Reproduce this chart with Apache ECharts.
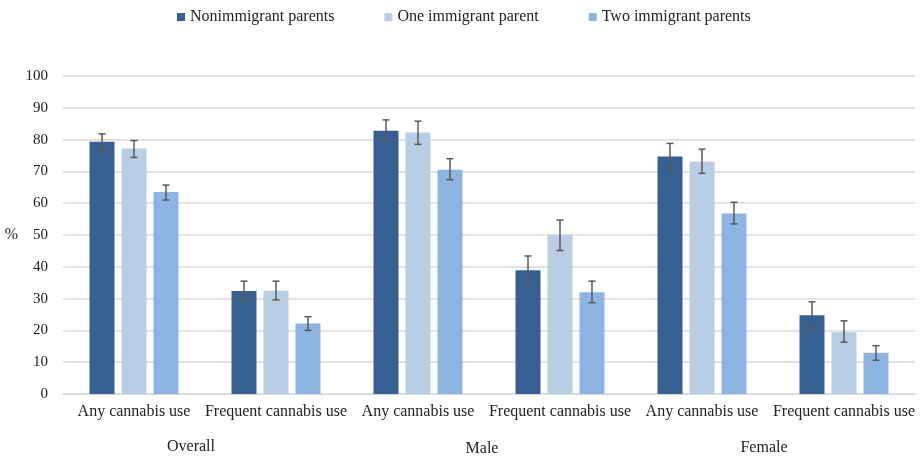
<!DOCTYPE html>
<html>
<head>
<meta charset="utf-8">
<script src="https://cdn.jsdelivr.net/npm/echarts@6/dist/echarts.min.js"></script>
<style>
  html, body { margin: 0; padding: 0; background: #fff; }
  #chart { width: 920px; height: 457px; }
</style>
</head>
<body>
<div id="chart"></div>
<script>
// data
const categories = ['Any cannabis use', 'Frequent cannabis use', 'Any cannabis use', 'Frequent cannabis use', 'Any cannabis use', 'Frequent cannabis use'];
const groups = ['Overall', 'Male', 'Female'];
const seriesNames = ['Nonimmigrant parents', 'One immigrant parent', 'Two immigrant parents'];

const nonimmigrant = [79.3, 32.4, 82.8, 38.9, 74.7, 24.8];
const oneImmigrant = [77.2, 32.5, 82.2, 49.9, 73.1, 19.4];
const twoImmigrant = [63.5, 22.2, 70.5, 32.0, 56.8, 13.0];

// confidence intervals (low / high)
const nonLow  = [76.2, 29.0, 79.3, 34.8, 70.2, 20.3];
const nonHigh = [81.8, 35.5, 86.2, 43.4, 78.8, 29.0];
const oneLow  = [74.4, 29.6, 78.5, 45.1, 69.4, 16.3];
const oneHigh = [79.7, 35.5, 85.8, 54.7, 77.0, 23.0];
const twoLow  = [61.0, 20.0, 67.4, 28.7, 53.5, 10.6];
const twoHigh = [65.7, 24.3, 74.0, 35.5, 60.3, 15.2];

const yTicks = [0, 10, 20, 30, 40, 50, 60, 70, 80, 90, 100];

const colors = ['#376092', '#B9CDE5', '#8DB4E2'];
const font = '"Liberation Serif", "Times New Roman", serif';
const barRatio = 0.176;
const gapRatio = 0.28;

const chart = echarts.init(document.getElementById('chart'));

function errorSeries(idx, low, high) {
  return {
    name: seriesNames[idx] + ' CI',
    type: 'custom',
    z: 10,
    data: low.map((v, i) => [i, v, high[i]]),
    encode: { x: 0, y: [1, 2] },
    renderItem: function (params, api) {
      const cat = api.value(0);
      const lowPt = api.coord([cat, api.value(1)]);
      const highPt = api.coord([cat, api.value(2)]);
      const band = api.size([1, 0])[0];
      const bw = band * barRatio;
      const x = lowPt[0] + (idx - 1) * bw * (1 + gapRatio);
      const cap = 3.5;
      const style = { stroke: '#595959', lineWidth: 1.5 };
      return {
        type: 'group',
        children: [
          { type: 'line', shape: { x1: x, y1: highPt[1], x2: x, y2: lowPt[1] }, style: style },
          { type: 'line', shape: { x1: x - cap, y1: highPt[1], x2: x + cap, y2: highPt[1] }, style: style },
          { type: 'line', shape: { x1: x - cap, y1: lowPt[1], x2: x + cap, y2: lowPt[1] }, style: style }
        ]
      };
    }
  };
}

function groupLabel(text, x, y) {
  return {
    type: 'text',
    x: x,
    y: y,
    style: { text: text, font: '16px ' + font, fill: '#222', align: 'center', verticalAlign: 'middle' }
  };
}

const option = {
  animation: false,
  color: colors,
  textStyle: { fontFamily: font },
  legend: {
    data: seriesNames,
    top: 4,
    left: 172,
    itemWidth: 8,
    itemHeight: 8,
    itemGap: 50,
    icon: 'rect',
    textStyle: { fontFamily: font, fontSize: 16, color: '#222' }
  },
  grid: { left: 63, right: 5, top: 76, bottom: 63 },
  xAxis: {
    type: 'category',
    data: categories,
    axisLine: { lineStyle: { color: '#D9D9D9', width: 1.5 } },
    axisTick: { show: false },
    axisLabel: { interval: 0, fontFamily: font, fontSize: 16, color: '#222', margin: 10 }
  },
  yAxis: {
    type: 'value',
    min: yTicks[0],
    max: yTicks[yTicks.length - 1],
    interval: 10,
    name: '%',
    nameLocation: 'middle',
    nameRotate: 0,
    nameGap: 45,
    nameTextStyle: { fontFamily: font, fontSize: 16, color: '#222' },
    axisLine: { show: false },
    axisTick: { show: false },
    axisLabel: { fontFamily: font, fontSize: 15, color: '#222', margin: 15 },
    splitLine: { lineStyle: { color: '#D9D9D9', width: 1.5 } }
  },
  graphic: [
    groupLabel(groups[0], 191, 447),
    groupLabel(groups[1], 482, 449),
    groupLabel(groups[2], 764, 448)
  ],
  series: [
    { name: seriesNames[0], type: 'bar', data: nonimmigrant, barWidth: (barRatio * 100) + '%', barGap: (gapRatio * 100) + '%' },
    { name: seriesNames[1], type: 'bar', data: oneImmigrant, barWidth: (barRatio * 100) + '%', barGap: (gapRatio * 100) + '%' },
    { name: seriesNames[2], type: 'bar', data: twoImmigrant, barWidth: (barRatio * 100) + '%', barGap: (gapRatio * 100) + '%' },
    errorSeries(0, nonLow, nonHigh),
    errorSeries(1, oneLow, oneHigh),
    errorSeries(2, twoLow, twoHigh)
  ]
};

chart.setOption(option);
</script>
</body>
</html>
